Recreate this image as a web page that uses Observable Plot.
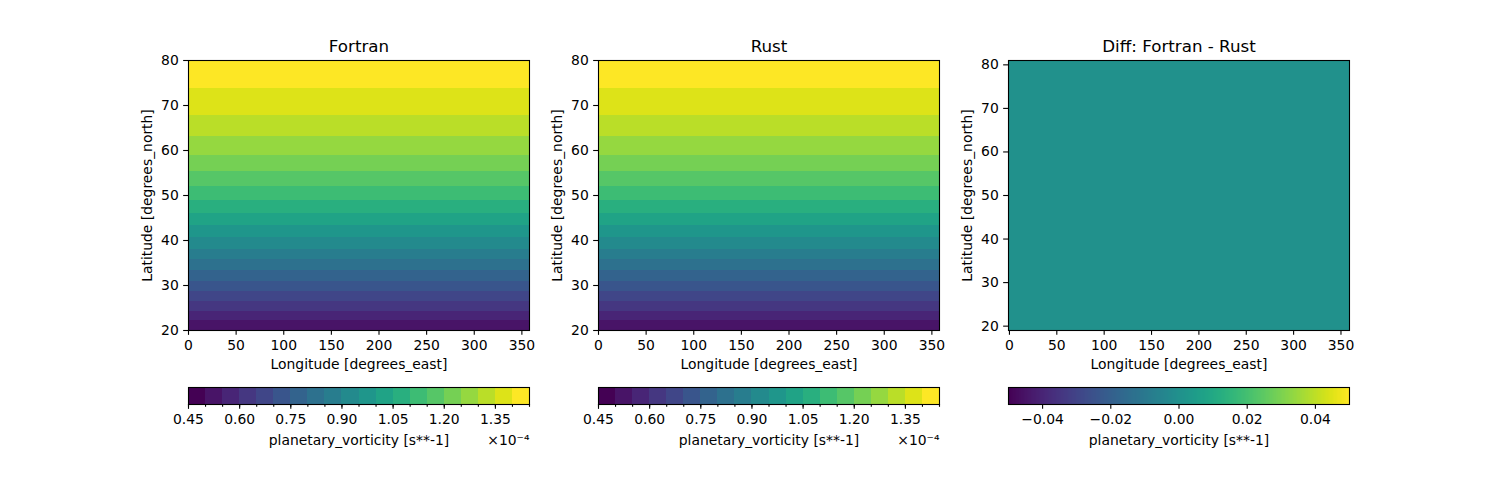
<!DOCTYPE html>
<html>
<head>
<meta charset="utf-8">
<script src="https://cdn.jsdelivr.net/npm/d3@7"></script>
<script src="https://cdn.jsdelivr.net/npm/@observablehq/plot@0.6"></script>
<style>
  body { margin: 0; background: #fff; }
  #fig { position: relative; width: 1500px; height: 500px; overflow: hidden; font-family: "DejaVu Sans", sans-serif; }
  #fig svg { position: absolute; }
</style>
</head>
<body>
<div id="fig"></div>
<script>
// Filled-contour levels of planetary vorticity, in units of 1e-4 s^-1
const levels = [0.45, 0.50, 0.55, 0.60, 0.65, 0.70, 0.75, 0.80, 0.85, 0.90, 0.95,
                1.00, 1.05, 1.10, 1.15, 1.20, 1.25, 1.30, 1.35, 1.40, 1.45];
// Latitude (deg N) bounding each filled band: first/last entries are the data edges,
// the others are where the field crosses the corresponding level
const bandEdgeLat = [20.0, 20.05, 22.2, 24.3, 26.5, 28.7, 31.0, 33.3, 35.7, 38.1, 40.7,
                     43.3, 46.1, 49.0, 52.0, 55.4, 59.0, 63.1, 67.8, 73.8, 80.0];
// Grid extent of the model output (degrees)
const lonRange = [0, 358];
const latRange = [20, 80];
// Cell edges of the difference field and its (constant) value
const diffLonEdges = [-1, 359];
const diffLatEdges = [19, 81];
const diffValues = [0];
const diffRange = [-0.05, 0.05];
// Tick labels
const lonTicks = [0, 50, 100, 150, 200, 250, 300, 350];
const latTicks = [20, 30, 40, 50, 60, 70, 80];
const cbarTicks = [0.45, 0.60, 0.75, 0.90, 1.05, 1.20, 1.35];
const diffTicks = [-0.04, -0.02, 0.00, 0.02, 0.04];

const FONT = "'DejaVu Sans', sans-serif";
const TICK = 4.86, PAD = 4.86, FS = 13.9, LW = 1.1;
const PW = 341, ML = 88, MR = 20;
const fig = document.getElementById("fig");

const bands = levels.slice(0, -1).map((lo, i) => ({
  lo, hi: levels[i + 1], mid: (lo + levels[i + 1]) / 2,
  lat0: bandEdgeLat[i], lat1: bandEdgeLat[i + 1],
  lon0: lonRange[0], lon1: lonRange[1]
}));
// Band colours run over the whole colormap, from the first to the last band
const bandColorDomain = [bands[0].mid, bands[bands.length - 1].mid];

const baseStyle = {fontFamily: FONT, fontSize: FS + "px", background: "none", overflow: "visible", color: "black"};
const label = (text, o) => Plot.text([text], {fontSize: FS, fill: "black", lineAnchor: "middle", textAnchor: "middle", ...o});

function place(svg, left, top) {
  svg.style.left = left + "px";
  svg.style.top = top + "px";
  fig.appendChild(svg);
}

function mapPanel({title, left, xDomain, yDomain, colorDomain, fieldMarks}) {
  const svg = Plot.plot({
    width: ML + PW + MR, height: 380,
    marginLeft: ML, marginRight: MR, marginTop: 60, marginBottom: 50,
    x: {domain: xDomain},
    y: {domain: yDomain},
    color: {type: "linear", scheme: "viridis", domain: colorDomain},
    style: baseStyle,
    marks: [
      ...fieldMarks,
      Plot.frame({stroke: "black", strokeWidth: LW}),
      Plot.axisX({ticks: lonTicks, tickSize: TICK, tickPadding: PAD, fontSize: FS, strokeWidth: LW, label: null, tickFormat: d => String(d)}),
      Plot.axisY({ticks: latTicks, tickSize: TICK, tickPadding: PAD, fontSize: FS, strokeWidth: LW, label: null, tickFormat: d => String(d)}),
      label(title, {frameAnchor: "top", dy: -14, fontSize: 16.7}),
      label("Longitude [degrees_east]", {frameAnchor: "bottom", dy: 34}),
      label("Latitude [degrees_north]", {frameAnchor: "left", dx: -41, rotate: -90})
    ]
  });
  place(svg, left - ML, 0);
}

function contourPanel(title, left) {
  mapPanel({
    title, left,
    xDomain: lonRange, yDomain: latRange, colorDomain: bandColorDomain,
    fieldMarks: [
      Plot.rect(bands, {x1: "lon0", x2: "lon1", y1: "lat0", y2: "lat1", fill: "mid", shapeRendering: "crispEdges"})
    ]
  });
  // Discrete colorbar
  const cb = Plot.plot({
    width: ML + PW + MR, height: 80,
    marginLeft: ML, marginRight: MR, marginTop: 7, marginBottom: 56,
    x: {domain: [levels[0], levels[levels.length - 1]]},
    color: {type: "linear", scheme: "viridis", domain: bandColorDomain},
    style: baseStyle,
    marks: [
      Plot.rect(bands, {x1: "lo", x2: "hi", fill: "mid", shapeRendering: "crispEdges"}),
      Plot.frame({stroke: "black", strokeWidth: LW}),
      Plot.axisX({ticks: levels, tickSize: 2.8, strokeWidth: LW, tickFormat: () => "", label: null}),
      Plot.axisX({ticks: cbarTicks, tickSize: TICK, tickPadding: PAD, fontSize: FS, strokeWidth: LW, label: null, tickFormat: d => d.toFixed(2)}),
      label("planetary_vorticity [s**-1]", {frameAnchor: "bottom", dy: 36}),
      label("×10⁻⁴", {frameAnchor: "bottom-right", dy: 36, textAnchor: "end"})
    ]
  });
  place(cb, left - ML, 380);
}

contourPanel("Fortran", 188);
contourPanel("Rust", 598);

// Difference panel
const diffCells = diffValues.map(v => ({v, lon0: diffLonEdges[0], lon1: diffLonEdges[1], lat0: diffLatEdges[0], lat1: diffLatEdges[1]}));
mapPanel({
  title: "Diff: Fortran - Rust", left: 1008,
  xDomain: diffLonEdges, yDomain: diffLatEdges, colorDomain: diffRange,
  fieldMarks: [
    Plot.rect(diffCells, {x1: "lon0", x2: "lon1", y1: "lat0", y2: "lat1", fill: "v"})
  ]
});

// Continuous colorbar, drawn as thin slices of the colour ramp
const rampN = PW;
const ramp = d3.range(rampN).map(i => {
  const a = diffRange[0] + (diffRange[1] - diffRange[0]) * i / rampN;
  const b = diffRange[0] + (diffRange[1] - diffRange[0]) * (i + 1) / rampN;
  return {a, b, m: (a + b) / 2};
});
const minus = d => d.toFixed(2).replace("-", "\u2212");
const dcb = Plot.plot({
  width: ML + PW + MR, height: 80,
  marginLeft: ML, marginRight: MR, marginTop: 7, marginBottom: 56,
  x: {domain: diffRange},
  color: {type: "linear", scheme: "viridis", domain: diffRange},
  style: baseStyle,
  marks: [
    Plot.rect(ramp, {x1: "a", x2: "b", fill: "m", shapeRendering: "crispEdges"}),
    Plot.frame({stroke: "black", strokeWidth: LW}),
    Plot.axisX({ticks: diffTicks, tickSize: TICK, tickPadding: PAD, fontSize: FS, strokeWidth: LW, label: null, tickFormat: minus}),
    label("planetary_vorticity [s**-1]", {frameAnchor: "bottom", dy: 36})
  ]
});
place(dcb, 1008 - ML, 380);
</script>
</body>
</html>
